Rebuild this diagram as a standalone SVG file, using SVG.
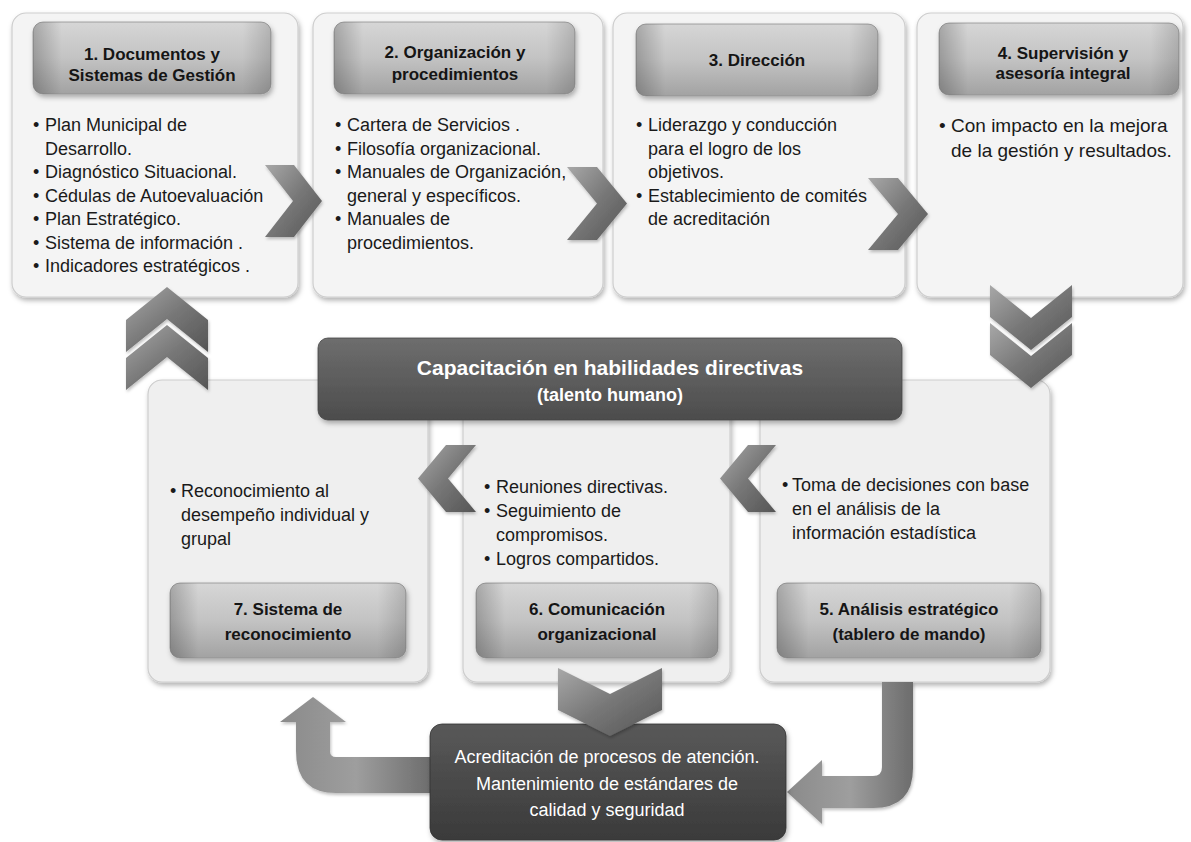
<svg xmlns="http://www.w3.org/2000/svg" width="1191" height="842" viewBox="0 0 1191 842">
<defs>
  <linearGradient id="gHdr" x1="0" y1="0" x2="0" y2="1">
    <stop offset="0" stop-color="#d6d6d6"/>
    <stop offset="0.5" stop-color="#c3c3c3"/>
    <stop offset="1" stop-color="#a2a2a2"/>
  </linearGradient>
  <linearGradient id="gHdrSide" x1="0" y1="0" x2="1" y2="0">
    <stop offset="0" stop-color="#000" stop-opacity="0.22"/>
    <stop offset="0.12" stop-color="#000" stop-opacity="0"/>
    <stop offset="0.88" stop-color="#000" stop-opacity="0"/>
    <stop offset="1" stop-color="#000" stop-opacity="0.15"/>
  </linearGradient>
  <linearGradient id="gBar" x1="0" y1="0" x2="0" y2="1">
    <stop offset="0" stop-color="#6e6e6e"/>
    <stop offset="1" stop-color="#4c4c4c"/>
  </linearGradient>
  <linearGradient id="gDark" x1="0" y1="0" x2="0" y2="1">
    <stop offset="0" stop-color="#595959"/>
    <stop offset="1" stop-color="#3a3a3a"/>
  </linearGradient>
  <linearGradient id="gChev" x1="0" y1="0" x2="1" y2="1">
    <stop offset="0" stop-color="#a8a8a8"/>
    <stop offset="0.5" stop-color="#777"/>
    <stop offset="1" stop-color="#555"/>
  </linearGradient>
  <linearGradient id="gArrow" x1="0" y1="0" x2="1" y2="0">
    <stop offset="0" stop-color="#8a8a8a"/>
    <stop offset="0.5" stop-color="#9e9e9e"/>
    <stop offset="1" stop-color="#6c6c6c"/>
  </linearGradient>
  <filter id="sh" x="-10%" y="-10%" width="125%" height="130%">
    <feDropShadow dx="1.5" dy="3" stdDeviation="2.5" flood-color="#000" flood-opacity="0.3"/>
  </filter>
  <filter id="shs" x="-10%" y="-10%" width="125%" height="130%">
    <feDropShadow dx="1" dy="2" stdDeviation="1.5" flood-color="#000" flood-opacity="0.25"/>
  </filter>
</defs>
<style>
  .box{fill:#f4f4f4;stroke:#cdcdcd;stroke-width:1.2;filter:url(#sh)}
  .bbox{fill:#efefef;stroke:#cdcdcd;stroke-width:1.2;filter:url(#sh)}
  .hdr{fill:url(#gHdr);stroke:#909090;stroke-width:0.8;filter:url(#sh)}
  .hside{fill:url(#gHdrSide)}
  .ht{font-family:"Liberation Sans",Arial,sans-serif;font-weight:bold;font-size:17px;fill:#151515;text-anchor:middle}
  .t18{font-family:"Liberation Sans",Arial,sans-serif;font-size:18px;fill:#1a1a1a}
  .t19{font-family:"Liberation Sans",Arial,sans-serif;font-size:19px;fill:#1a1a1a}
  .wt{font-family:"Liberation Sans",Arial,sans-serif;fill:#ffffff;text-anchor:middle}
  .chev{fill:url(#gChev);filter:url(#shs)}
  .arr{fill:url(#gArrow);filter:url(#shs)}
</style>
<rect width="1191" height="842" fill="#ffffff"/>

<g id="node1">
  <rect class="box" x="12" y="13" width="286" height="284" rx="14"/>
  <rect class="hdr" x="33" y="22" width="238" height="72" rx="10"/>
  <rect class="hside" x="33" y="22" width="238" height="72" rx="10"/>
  <text class="ht" x="152" y="60">1. Documentos y</text>
  <text class="ht" x="152" y="81">Sistemas de Gestión</text>
  <text class="t18">
    <tspan x="33" y="131">•</tspan><tspan x="45" y="131">Plan Municipal de</tspan>
    <tspan x="45" y="154.5">Desarrollo.</tspan>
    <tspan x="33" y="178">•</tspan><tspan x="45" y="178">Diagnóstico Situacional.</tspan>
    <tspan x="33" y="201.5">•</tspan><tspan x="45" y="201.5">Cédulas de Autoevaluación</tspan>
    <tspan x="33" y="225">•</tspan><tspan x="45" y="225">Plan Estratégico.</tspan>
    <tspan x="33" y="248.5">•</tspan><tspan x="45" y="248.5">Sistema de información .</tspan>
    <tspan x="33" y="272">•</tspan><tspan x="45" y="272">Indicadores estratégicos .</tspan>
  </text>
</g>

<g id="node2">
  <rect class="box" x="313" y="13" width="290" height="284" rx="14"/>
  <rect class="hdr" x="334" y="22" width="241" height="72" rx="10"/>
  <rect class="hside" x="334" y="22" width="241" height="72" rx="10"/>
  <text class="ht" x="455" y="58">2. Organización y</text>
  <text class="ht" x="455" y="80">procedimientos</text>
  <text class="t18">
    <tspan x="335" y="131">•</tspan><tspan x="347" y="131">Cartera de Servicios .</tspan>
    <tspan x="335" y="154.5">•</tspan><tspan x="347" y="154.5">Filosofía organizacional.</tspan>
    <tspan x="335" y="178">•</tspan><tspan x="347" y="178">Manuales de Organización,</tspan>
    <tspan x="347" y="201.5">general y específicos.</tspan>
    <tspan x="335" y="225">•</tspan><tspan x="347" y="225">Manuales de</tspan>
    <tspan x="347" y="248.5">procedimientos.</tspan>
  </text>
</g>

<g id="node3">
  <rect class="box" x="613" y="13" width="292" height="284" rx="14"/>
  <rect class="hdr" x="636" y="24" width="242" height="72" rx="10"/>
  <rect class="hside" x="636" y="24" width="242" height="72" rx="10"/>
  <text class="ht" x="757" y="66">3. Dirección</text>
  <text class="t18">
    <tspan x="636" y="131">•</tspan><tspan x="648" y="131">Liderazgo y conducción</tspan>
    <tspan x="648" y="154.5">para el logro de los</tspan>
    <tspan x="648" y="178">objetivos.</tspan>
    <tspan x="636" y="201.5">•</tspan><tspan x="648" y="201.5">Establecimiento de comités</tspan>
    <tspan x="648" y="225">de acreditación</tspan>
  </text>
</g>

<g id="node4">
  <rect class="box" x="917" y="13" width="266" height="284" rx="14"/>
  <rect class="hdr" x="939" y="23" width="240" height="72" rx="10"/>
  <rect class="hside" x="939" y="23" width="240" height="72" rx="10"/>
  <text class="ht" x="1063" y="59">4.  Supervisión y</text>
  <text class="ht" x="1063" y="79">asesoría integral</text>
  <text class="t19">
    <tspan x="939" y="132">•</tspan><tspan x="951" y="132">Con impacto en la mejora</tspan>
    <tspan x="951" y="156.5">de la gestión y resultados.</tspan>
  </text>
</g>

<g id="node7">
  <rect class="bbox" x="148" y="380" width="280" height="302" rx="14"/>
  <text class="t18">
    <tspan x="170" y="497">•</tspan><tspan x="181" y="497">Reconocimiento al</tspan>
    <tspan x="181" y="521">desempeño individual  y</tspan>
    <tspan x="181" y="545">grupal</tspan>
  </text>
  <rect class="hdr" x="170" y="583" width="236" height="75" rx="10"/>
  <rect class="hside" x="170" y="583" width="236" height="75" rx="10"/>
  <text class="ht" x="288" y="615">7. Sistema de</text>
  <text class="ht" x="288" y="640">reconocimiento</text>
</g>

<g id="node6">
  <rect class="bbox" x="463" y="380" width="267" height="302" rx="14"/>
  <text class="t18">
    <tspan x="484" y="493">•</tspan><tspan x="496" y="493">Reuniones directivas.</tspan>
    <tspan x="484" y="517">•</tspan><tspan x="496" y="517">Seguimiento de</tspan>
    <tspan x="496" y="541">compromisos.</tspan>
    <tspan x="484" y="565">•</tspan><tspan x="496" y="565">Logros compartidos.</tspan>
  </text>
  <rect class="hdr" x="476" y="583" width="242" height="75" rx="10"/>
  <rect class="hside" x="476" y="583" width="242" height="75" rx="10"/>
  <text class="ht" x="597" y="615">6. Comunicación</text>
  <text class="ht" x="597" y="640">organizacional</text>
</g>

<g id="node5">
  <rect class="bbox" x="760" y="380" width="290" height="302" rx="14"/>
  <text class="t18">
    <tspan x="782" y="491">•</tspan><tspan x="792" y="491">Toma de decisiones con base</tspan>
    <tspan x="792" y="515">en el análisis de la</tspan>
    <tspan x="792" y="539">información estadística</tspan>
  </text>
  <rect class="hdr" x="777" y="583" width="264" height="75" rx="10"/>
  <rect class="hside" x="777" y="583" width="264" height="75" rx="10"/>
  <text class="ht" x="909" y="615">5. Análisis estratégico</text>
  <text class="ht" x="909" y="640">(tablero de mando)</text>
</g>

<g id="nodeCap">
  <rect x="318" y="338" width="584" height="82" rx="10" fill="url(#gBar)" stroke="#444" stroke-width="0.8" filter="url(#sh)"/>
  <text class="wt" x="610" y="375" font-size="21" font-weight="bold">Capacitación en habilidades directivas</text>
  <text class="wt" x="610" y="401" font-size="18" font-weight="bold">(talento humano)</text>
</g>

<g id="connectors">
  <polygon class="chev" points="265,165 294,165 322,201 294,237 265,237 293,201"/>
  <polygon class="chev" points="567,167 597,167 627,203.5 597,240 567,240 597,203.5"/>
  <polygon class="chev" points="868,178 898,178 928,214 898,250 868,250 898,214"/>
  <polygon class="chev" points="167,287 208,320 208,352 167,319 126,352 126,320"/>
  <polygon class="chev" points="167,325 208,358 208,390 167,357 126,390 126,358"/>
  <polygon class="chev" points="990,285 1031,318 1072,285 1072,317 1031,350 990,317"/>
  <polygon class="chev" points="990,323 1031,356 1072,323 1072,355 1031,388 990,355"/>
  <polygon class="chev" points="446,445 476,445 448,478.5 476,512 446,512 418,478.5"/>
  <polygon class="chev" points="748,445 776,445 748,478.5 776,512 748,512 720,478.5"/>
  <path class="arr" d="M432,757 L336,757 Q330,757 330,751 L330,722 L346,722 L313,697 L280,722 L296,722 L296,751 Q296,793 336,793 L432,793 Z"/>
  <path class="arr" d="M882,682 L913,682 L913,768 Q913,808 873,808 L822,808 L822,824 L787,792 L822,760 L822,776 L873,776 Q882,776 882,767 Z"/>
</g>

<g id="nodeAcred">
  <rect x="430" y="724" width="356" height="116" rx="12" fill="url(#gDark)" stroke="#333" stroke-width="0.8" filter="url(#sh)"/>
  <text class="wt" x="607" y="763" font-size="18">Acreditación de procesos de atención.</text>
  <text class="wt" x="607" y="790" font-size="18">Mantenimiento de  estándares de</text>
  <text class="wt" x="607" y="816" font-size="18">calidad y seguridad</text>
</g>

<g id="connectorDown">
  <polygon class="chev" points="558,668 610,694 662,668 662,710 610,736 558,710"/>
</g>
</svg>
